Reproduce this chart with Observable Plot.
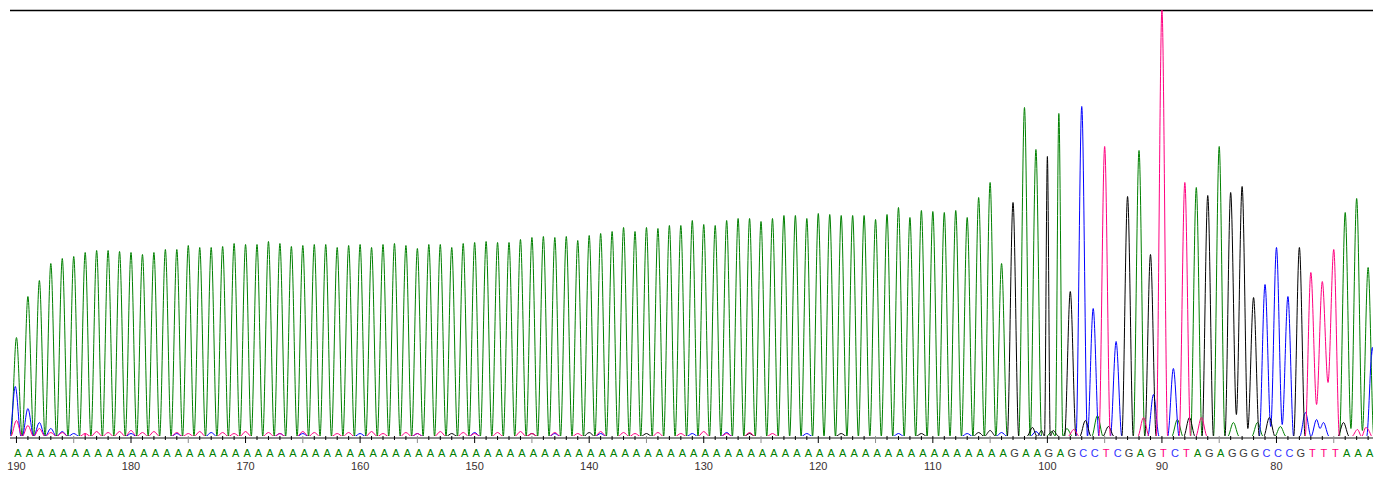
<!DOCTYPE html>
<html>
<head>
<meta charset="utf-8">
<script src="https://cdn.jsdelivr.net/npm/d3@7"></script>
<script src="https://cdn.jsdelivr.net/npm/@observablehq/plot@0.6"></script>
<style>
  html, body { margin: 0; padding: 0; background: #fff; }
  #chart svg { display: block; background: #fff; }
</style>
</head>
<body>
<div id="chart"></div>
<script>
// ---- data ----
const startPosition = 190;
const baseCalls = "AAAAAAAAAAAAAAAAAAAAAAAAAAAAAAAAAAAAAAAAAAAAAAAAAAAAAAAAAAAAAAAAAAAAAAAAAAAAAAAAAAAAAAAGAAGAGCCTCGAGTCTAGAGGGCCCGTTTAAA";
// height of the called-base peak at each position (190 -> 72)
const calledHeights = [
  99, 140, 156, 173, 178, 180, 184, 186, 186, 185,
  184, 182, 184, 187, 187, 191, 189, 189, 190, 193,
  192, 192, 195, 193, 190, 191, 192, 192, 189, 191,
  192, 189, 192, 193, 191, 188, 192, 192, 189, 193,
  194, 195, 194, 194, 197, 199, 200, 199, 200, 196,
  201, 203, 205, 209, 205, 209, 208, 211, 211, 216,
  212, 211, 216, 218, 218, 215, 218, 221, 221, 218,
  223, 222, 221, 221, 221, 217, 222, 229, 219, 226,
  225, 224, 226, 219, 239, 254, 173,
  234, 329, 287, 280, 323, 145, 330, 128, 290, 95,
  240, 286, 182, 427, 68, 254, 249, 241, 290, 244,
  250, 139, 152, 189, 140, 189, 164, 155, 187, 224,
  238, 169
];
// secondary (uncalled) peaks: channel, position, height
const secondaryChannel = [
  "C","C","C","C","C","C",
  "T","T","T","T",
  "G","A","G","T","C","A","G","T","A","A","G","A","C","C","C","G","T","T","C",
  "T","T","T","T","T","T","T","T","T","T","T","T","T","T","T","T","T","T","T","T","T","T","T","T","T","T","T","T","T","T","T","T","T","T","T","T","T","T","T","T","T","T",
  "C","C","C","C","C","C","C","C","C","C","C","C","C","C","C","C","C",
  "G","G","G","G","G","G","G","G","G","G","G","G",
  "A","A","T","T"
];
const secondaryPos = [
  190.1, 189, 188, 187, 186, 185,
  190, 189, 188, 187,
  96.68, 95.63, 94.67, 91.61, 90.74, 88.65, 87.6, 86.55, 83.76, 81.66, 80.62, 79.66, 77.47, 76.5, 75.9, 74.15, 72.93, 72.2, 71.63,
  186, 184, 183, 182, 181, 180, 179, 178, 176, 175, 174, 172, 171, 170, 168, 167, 165, 164, 162, 161, 159, 158, 156, 155, 153, 151, 150, 148, 146, 145, 143, 141, 139, 137, 136, 134, 132, 130, 128, 126, 124,
  184, 180, 176, 173, 167, 160, 155, 150, 143, 139, 131, 128, 121, 113, 107, 104, 101,
  165, 152, 145, 140, 135, 126, 118, 111, 106, 105, 101.3, 99.5,
  100.5, 98.3, 99.6, 97.7
];
const secondaryHeight = [
  50, 28, 14, 8, 5, 3,
  16, 11, 8, 4,
  16, 21, 10, 19, 42, 17, 19, 19, 14, 14, 19, 10, 24, 17, 14, 14, 7, 9, 89,
  4, 3, 5, 4, 5, 6, 4, 5, 4, 3, 5, 4, 3, 5, 4, 3, 5, 4, 3, 4, 5, 3, 4, 3, 5, 4, 3, 4, 5, 3, 4, 3, 5, 4, 3, 4, 3, 5, 3, 4, 3,
  3, 3, 3, 4, 3, 3, 3, 4, 3, 3, 3, 4, 3, 3, 3, 4, 5,
  3, 3, 3, 4, 3, 3, 3, 3, 4, 6, 9, 6,
  6, 8, 5, 7
];
// raised valleys between neighbouring peaks of one channel
const troughChannel = ["T", "T", "G", "G", "C", "C", "A", "A", "C"];
const troughPos     = [76.5, 75.5, 83.5, 82.5, 80.5, 79.5, 73.5, 72.5, 76.2];
const troughHeight  = [32, 54, 22, 8, 10, 12, 8, 6, 8];
const tickLabels = [190, 180, 170, 160, 150, 140, 130, 120, 110, 100, 90, 80];

// ---- derived tables ----
const calls = baseCalls.split("");
const positions = calls.map((_, i) => startPosition - i);
const letters = calls.map((b, i) => ({pos: positions[i], base: b}));

function troughAt(ch, m) {
  for (let i = 0; i < troughChannel.length; i++) {
    if (troughChannel[i] === ch && Math.abs(troughPos[i] - m) < 0.2) return troughHeight[i];
  }
  return 0;
}

function buildTrace(ch) {
  const peaks = [];
  calls.forEach((b, i) => { if (b === ch) peaks.push({pos: positions[i], h: calledHeights[i]}); });
  secondaryChannel.forEach((c, i) => { if (c === ch) peaks.push({pos: secondaryPos[i], h: secondaryHeight[i]}); });
  peaks.sort((a, b) => b.pos - a.pos);
  const pts = [{pos: 192, h: 0}];
  for (let k = 0; k < peaks.length; k++) {
    const p = peaks[k], prev = peaks[k - 1], next = peaks[k + 1];
    if (!prev || prev.pos - p.pos > 1.05) pts.push({pos: p.pos + 0.5, h: 0});
    pts.push({pos: p.pos, h: p.h});
    if (next && p.pos - next.pos <= 1.05) {
      const m = (p.pos + next.pos) / 2;
      pts.push({pos: m, h: troughAt(ch, m)});
    } else {
      pts.push({pos: p.pos - 0.5, h: 0});
    }
  }
  pts.push({pos: 69, h: 0});
  return pts;
}

const traceColors = {A: "#008000", C: "#0000ff", G: "#000000", T: "#ff0080"};
const letterColors = {A: "#008000", C: "#3333ff", G: "#3a3a3a", T: "#ff0080"};
const tickPositions = positions.slice();

const marks = [];
// top border line
marks.push(Plot.ruleY([426], {stroke: "#000", strokeWidth: 1.5}));
// axis line
marks.push(Plot.ruleY([0], {stroke: "#8c8c8c", strokeWidth: 2, dy: 1.5}));
// traces
for (const ch of ["A", "C", "G", "T"]) {
  marks.push(Plot.line(buildTrace(ch), {
    x: "pos", y: "h", stroke: traceColors[ch], strokeWidth: 1,
    curve: "monotone-x", clip: true
  }));
}
// ticks
marks.push(Plot.ruleX(tickPositions.filter(d => d % 5 !== 0), {x: d => d, y1: 0, y2: -4, stroke: "#000", strokeWidth: 1}));
marks.push(Plot.ruleX(tickPositions.filter(d => d % 10 === 0), {x: d => d, y1: 0, y2: -7, stroke: "#000", strokeWidth: 1}));
marks.push(Plot.ruleX(tickPositions.filter(d => d % 5 === 0 && d % 10 !== 0), {x: d => d, y1: 0, y2: -7, stroke: "#8c8c8c", strokeWidth: 1}));
// base letters
for (const b of ["A", "C", "G", "T"]) {
  marks.push(Plot.text(letters.filter(d => d.base === b), {
    x: "pos", y: -16.5, text: "base", fill: letterColors[b], dx: 1.5,
    fontSize: 11, fontFamily: "Liberation Sans, Arial, sans-serif"
  }));
}
// position numbers
marks.push(Plot.text(tickLabels, {
  x: d => d, y: -30, text: d => String(d), fill: "#3a3030",
  fontSize: 11, fontFamily: "Liberation Sans, Arial, sans-serif"
}));

const chart = Plot.plot({
  width: 1384,
  height: 481,
  marginLeft: 10,
  marginRight: 11,
  marginTop: 10,
  marginBottom: 45,
  x: {domain: [190.52, 71.53], axis: null},
  y: {domain: [0, 426], axis: null},
  style: {background: "#fff"},
  marks
});
document.getElementById("chart").appendChild(chart);
</script>
</body>
</html>
